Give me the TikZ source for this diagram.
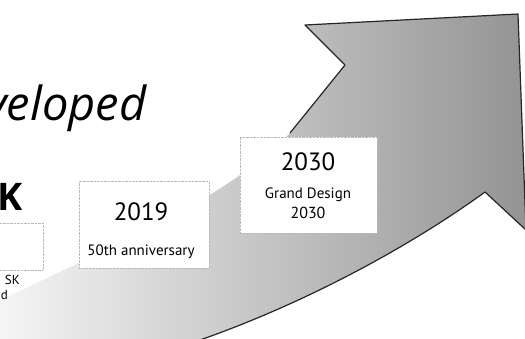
\documentclass[tikz,border=0pt]{standalone}
\usepackage{fontspec}
\setmainfont{PT Sans}
\newfontfamily\headfont{Open Sans}
\begin{document}
\begin{tikzpicture}[x=1pt,y=-1pt,
        box/.style={draw=gray!55,densely dotted,fill=white,inner sep=0pt},
        yr/.style={anchor=base,inner sep=0pt,font=\fontsize{25}{25}\selectfont},
        txt/.style={anchor=base,inner sep=0pt,font=\fontsize{15}{15}\selectfont}]
        \useasboundingbox (0,0) rectangle (525,338);
        \clip (0,0) rectangle (525,338);
        % big arrow, fading out towards its tail
        \shade[left color=black!4,middle color=black!36,right color=black!42]
            (518,14)--(526,230)--(485,192) .. controls (405,250) and (300,305) .. (200,340)
            --(0,400)--(0,300) .. controls (150,230) and (235,190) .. (290,133)
            --(345,65)--(305,25)--cycle;
        \draw[black!85,line width=1.2pt,line join=round]
            (290,133)--(345,65)--(305,25)--(518,14)--(526,230)--(485,192)
            .. controls (405,250) and (300,305) .. (200,340);
        % milestone boxes
        \node[box,minimum width=60pt,minimum height=47pt] (btsk) at (13,246.5) {};
        \node[box,minimum width=130pt,minimum height=87pt] (b2019) at (144,224.5) {};
        \node[box,minimum width=137pt,minimum height=96pt] (b2030) at (308.5,185) {};
        \node[font=\headfont\itshape\fontsize{47}{47}\selectfont,anchor=base west,inner sep=0pt] (devel) at (-15,120) {veloped};
        \node[font=\headfont\bfseries\fontsize{38}{38}\selectfont,anchor=base east,inner sep=0pt] (head) at (23,210) {K};
        \node[txt,font=\fontsize{13}{13}\selectfont,anchor=base east] (tska) at (20,284) {SK};
        \node[txt,font=\fontsize{13}{13}\selectfont,anchor=base east] (tskb) at (8,299) {d};
        \node[yr] (y2019) at (141,220) {2019};
        \node[txt] (t2019) at (141,255) {50th anniversary};
        \node[yr] (y2030) at (308,170) {2030};
        \node[txt] (t2030) at (308,198) {Grand Design};
        \node[txt,font=\fontsize{16}{16}\selectfont] (t2030b) at (308,218) {2030};
\end{tikzpicture}
\end{document}
